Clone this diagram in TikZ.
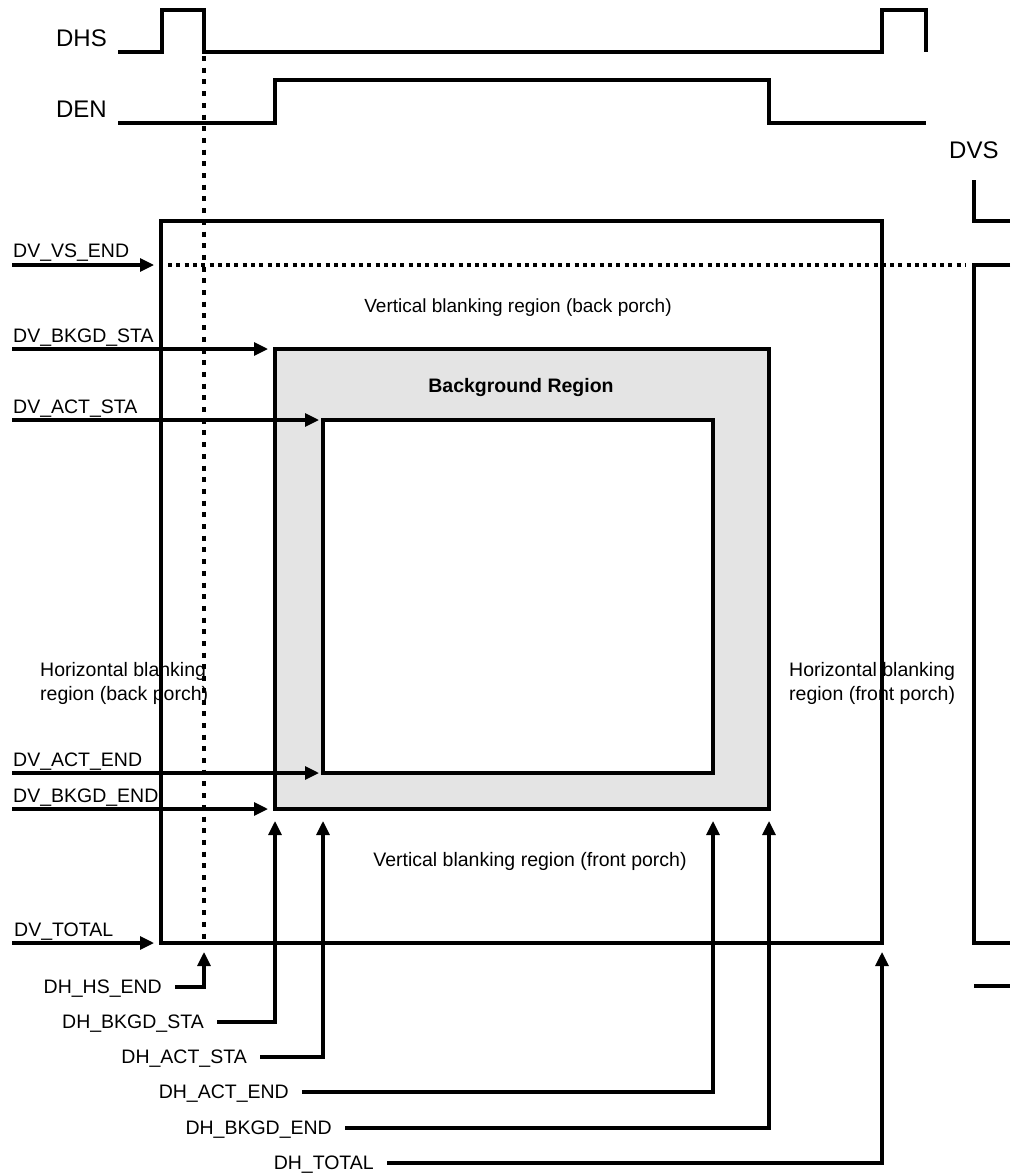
\documentclass[tikz,border=0pt]{standalone}
\usepackage{fontspec}
\setmainfont{Liberation Sans}
\usetikzlibrary{arrows.meta,positioning,calc}

\definecolor{bggray}{RGB}{228,228,228}

\tikzset{
  lbl/.style={font=\fontsize{19.5}{24}\selectfont, inner sep=0pt, text depth=0pt},
  sig/.style={font=\fontsize{24}{28}\selectfont, inner sep=0pt},
  wire/.style={line width=3.1pt},
  arr/.style={wire, -{Triangle[length=14pt,width=13pt]}},
  hdots/.style={wire, dash pattern=on 4pt off 4.3pt},
  vdots/.style={wire, dash pattern=on 5pt off 6.7pt}
}

\begin{document}
\begin{tikzpicture}[x=1pt, y=-1pt]
        \useasboundingbox (0,0) rectangle (1010,1173);

        % Frame corners
        \coordinate (O1) at (161,221);
        \coordinate (O2) at (882,943);
        \coordinate (G1) at (275,349);
        \coordinate (G2) at (769,809);
        \coordinate (I1) at (323,420);
        \coordinate (I2) at (713,773);
        \coordinate (HS) at (204,52);

        % Background and active regions
        \draw[wire, fill=bggray] (G1) rectangle (G2);
        \draw[wire, fill=white] (I1) rectangle (I2);
        \draw[wire] (O1) rectangle (O2);

        % Signals
        \node[sig, anchor=base east] (dhs) at (107,46) {DHS};
        \node[sig, anchor=base east] (den) at (107,117) {DEN};
        \node[sig, anchor=base west] (dvs) at (949,158) {DVS};
        \draw[wire] (118,52) -| (162,10) -| (HS) -| (882,10) -| (926,52);
        \draw[wire] (118,123) -| (275,80) -| (769,123) -- (926,123);
        \draw[wire] (974,180) |- (1010,221);
        \draw[wire] (1010,265) -| (974,943) -- (1010,943);
        \draw[wire] (974,986) -- (1010,986);

        % Dotted markers
        \draw[vdots] ($(HS)+(0,4)$) -- (HS |- O2);
        \draw[hdots] (168,265) -- (966,265);

        % Region texts
        \node[lbl, anchor=base, font=\fontsize{19}{24}\selectfont] (vbp) at (518,312) {Vertical blanking region (back porch)};
        \node[lbl, anchor=base, font=\fontsize{19.5}{24}\selectfont\bfseries] (bkgd) at (521,392) {Background Region};
        \node[lbl, anchor=base] (vfp) at (530,866) {Vertical blanking region (front porch)};
        \node[lbl, anchor=base west, align=left] (hbp) at (40,700) {Horizontal blanking\\region (back porch)};
        \node[lbl, anchor=base west, align=left] (hfp) at (789,700) {Horizontal blanking\\region (front porch)};

        % Vertical settings
        \coordinate (a1) at (12,265);
        \coordinate (a2) at (12,349);
        \coordinate (a3) at (12,420);
        \coordinate (a4) at (12,773);
        \coordinate (a5) at (12,809);
        \coordinate (a6) at (12,943);
        \node[lbl, anchor=base west] (vsend) at ($(a1)+(1,-8)$) {DV\_VS\_END};
        \node[lbl, anchor=base west] (bkgdsta) at ($(a2)+(1,-7)$) {DV\_BKGD\_STA};
        \node[lbl, anchor=base west] (actsta) at ($(a3)+(1,-7)$) {DV\_ACT\_STA};
        \node[lbl, anchor=base west] (actend) at ($(a4)+(1,-7)$) {DV\_ACT\_END};
        \node[lbl, anchor=base west] (bkgdend) at ($(a5)+(1,-7)$) {DV\_BKGD\_END};
        \node[lbl, anchor=base west] (vtotal) at ($(a6)+(2,-7)$) {DV\_TOTAL};
        \draw[arr, shorten >=7pt] (a1) -- (a1 -| O1);
        \draw[arr, shorten >=7pt] (a2) -- (a2 -| G1);
        \draw[arr, shorten >=4pt] (a3) -- (a3 -| I1);
        \draw[arr, shorten >=4pt] (a4) -- (a4 -| I1);
        \draw[arr, shorten >=7pt] (a5) -- (a5 -| G1);
        \draw[arr, shorten >=7pt] (a6) -- (a6 -| O1);

        % Horizontal settings
        \coordinate (b1) at (175,987);
        \coordinate (b2) at (217,1022);
        \coordinate (b3) at (260,1057);
        \coordinate (b4) at (302,1092);
        \coordinate (b5) at (345,1128);
        \coordinate (b6) at (387,1163);
        \node[lbl, left=13pt of b1] (hsend) {DH\_HS\_END};
        \node[lbl, left=13pt of b2] (hbkgdsta) {DH\_BKGD\_STA};
        \node[lbl, left=13pt of b3] (hactsta) {DH\_ACT\_STA};
        \node[lbl, left=13pt of b4] (hactend) {DH\_ACT\_END};
        \node[lbl, left=13pt of b5] (hbkgdend) {DH\_BKGD\_END};
        \node[lbl, left=13pt of b6] (htotal) {DH\_TOTAL};
        \draw[arr, shorten >=9pt] (b1) -| (HS |- O2);
        \draw[arr, shorten >=12pt] (b2) -| (G1 |- G2);
        \draw[arr, shorten >=12pt] (b3) -| (I1 |- G2);
        \draw[arr, shorten >=12pt] (b4) -| (I2 |- G2);
        \draw[arr, shorten >=12pt] (b5) -| (G2);
        \draw[arr, shorten >=9pt] (b6) -| (O2);

      \end{tikzpicture}
\end{document}
